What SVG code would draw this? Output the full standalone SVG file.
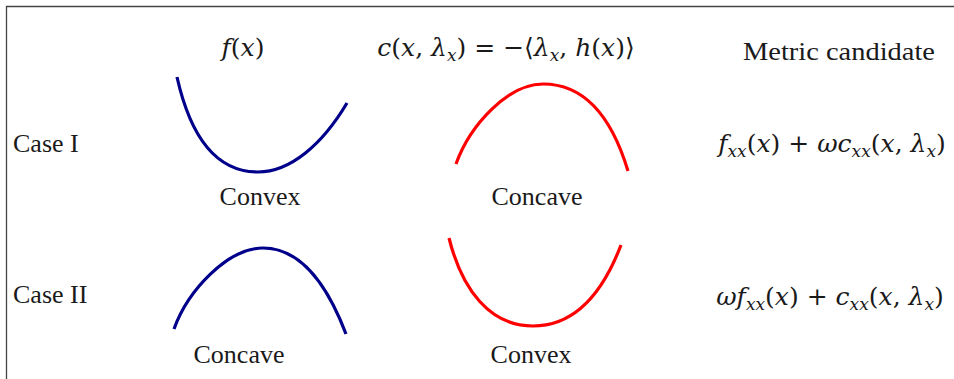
<svg xmlns="http://www.w3.org/2000/svg" width="954" height="379" viewBox="0 0 954 379">
<style>
text{font-family:"Liberation Serif","DejaVu Serif",serif;font-size:26px;fill:#1a1a1a}
.math{font-family:"DejaVu Serif","Liberation Serif",serif;font-size:25px}
.m{text-anchor:middle}
.i{font-style:italic}
.s{font-size:17px;font-style:italic}
.blue{fill:none;stroke:#00008B;stroke-width:3.2;stroke-linecap:butt}
.red{fill:none;stroke:#FF0000;stroke-width:3.2;stroke-linecap:butt}
.frame{stroke:#444;stroke-width:1.3;fill:none}
</style>
<g id="frame"><path class="frame" d="M6.5,379 V6.5 H954"/></g>
<g id="headers">
<text id="h-f" class="m math" x="243" y="56"><tspan class="i">f</tspan>(<tspan class="i">x</tspan>)</text>
<text id="h-c" class="m math" x="506" y="56"><tspan class="i">c</tspan>(<tspan class="i">x</tspan>, <tspan class="i">λ</tspan><tspan class="s" dy="5">x</tspan><tspan dy="-5">) = −⟨</tspan><tspan class="i">λ</tspan><tspan class="s" dy="5">x</tspan><tspan dy="-5">, </tspan><tspan class="i">h</tspan>(<tspan class="i">x</tspan>)⟩</text>
<text id="h-metric" class="m" x="839" y="60" textLength="192" lengthAdjust="spacingAndGlyphs">Metric candidate</text>
</g>
<g id="case1">
<text id="case1-label" x="13" y="152">Case I</text>
<g id="case1-f"><path class="blue" d="M177,77 C190,135 215,172 258,172 C290,172 322,145 347,103"/><text class="m" x="260" y="205">Convex</text></g>
<g id="case1-c"><path class="red" d="M456,164 C470,125 508,84 543,84 C585,84 612,118 628,171"/><text class="m" x="537" y="205">Concave</text></g>
<text id="case1-metric" class="m math" x="832" y="152"><tspan class="i">f</tspan><tspan class="s" dy="5">xx</tspan><tspan dy="-5">(</tspan><tspan class="i">x</tspan>) + <tspan class="i">ωc</tspan><tspan class="s" dy="5">xx</tspan><tspan dy="-5">(</tspan><tspan class="i">x</tspan>, <tspan class="i">λ</tspan><tspan class="s" dy="5">x</tspan><tspan dy="-5">)</tspan></text>
</g>
<g id="case2">
<text id="case2-label" x="13" y="303">Case II</text>
<g id="case2-f"><path class="blue" d="M174,329 C188,290 228,248 263,248 C305,248 330,292 346,334"/><text class="m" x="239" y="363">Concave</text></g>
<g id="case2-c"><path class="red" d="M449,238 C462,290 490,326 533,326 C570,326 600,300 621,245"/><text class="m" x="531" y="363">Convex</text></g>
<text id="case2-metric" class="m math" x="830" y="305"><tspan class="i">ωf</tspan><tspan class="s" dy="5">xx</tspan><tspan dy="-5">(</tspan><tspan class="i">x</tspan>) + <tspan class="i">c</tspan><tspan class="s" dy="5">xx</tspan><tspan dy="-5">(</tspan><tspan class="i">x</tspan>, <tspan class="i">λ</tspan><tspan class="s" dy="5">x</tspan><tspan dy="-5">)</tspan></text>
</g>
</svg>
